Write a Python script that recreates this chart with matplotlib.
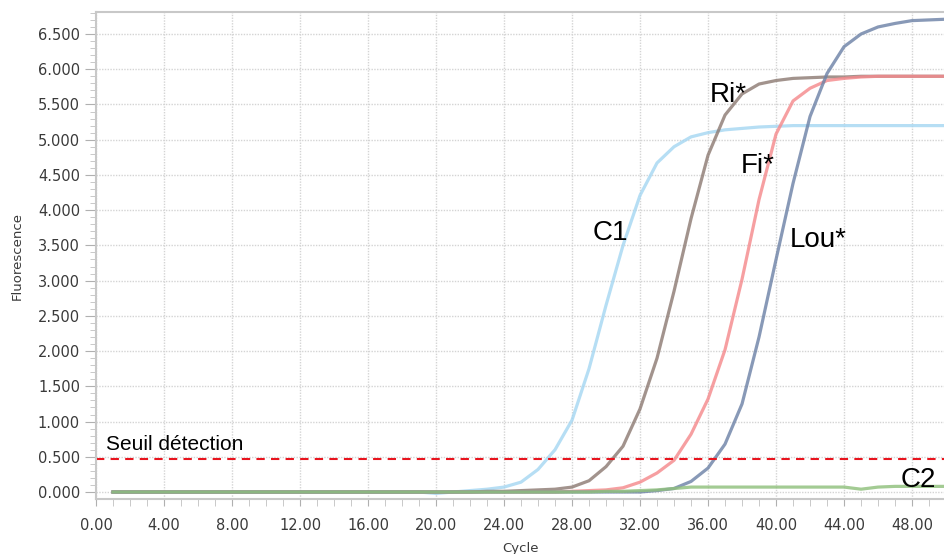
import numpy as np
import matplotlib.pyplot as plt
from matplotlib.ticker import MultipleLocator, FormatStrFormatter

# Cycles et courbes de fluorescence
cycles = list(range(1, 51))

c1 = [0.00] * 19 + [-0.02, 0.00, 0.02, 0.04, 0.07, 0.14, 0.32, 0.60, 1.02, 1.75,
                    2.65, 3.50, 4.21, 4.67, 4.90, 5.04, 5.10, 5.14, 5.16, 5.18,
                    5.19] + [5.20] * 10
ri = [0.00] * 22 + [0.01, 0.01, 0.02, 0.03, 0.04, 0.07, 0.16, 0.36, 0.65, 1.18,
                    1.90, 2.85, 3.88, 4.78, 5.35, 5.65, 5.79, 5.84, 5.87, 5.88,
                    5.89, 5.89, 5.90] + [5.90] * 5
fi = [0.00] * 27 + [0.01, 0.02, 0.03, 0.06, 0.14, 0.27, 0.45, 0.82, 1.32, 2.02,
                    3.02, 4.15, 5.08, 5.55, 5.73, 5.84, 5.87, 5.89] + [5.90] * 5
lou = [0.00] * 32 + [0.02, 0.05, 0.15, 0.34, 0.68, 1.25, 2.20, 3.30, 4.38, 5.33,
                     5.94, 6.32, 6.50, 6.60, 6.65, 6.69, 6.70, 6.71]
c2 = [0.00] * 29 + [0.01, 0.01, 0.02, 0.03, 0.05] + [0.07] * 10 + [0.04, 0.07] + [0.08] * 4

seuil = 0.47

series = [
    ("C1", c1, "#a6d7f2"),
    ("Ri*", ri, "#8e7c74"),
    ("Fi*", fi, "#f58a8d"),
    ("Lou*", lou, "#6e83a7"),
    ("C2", c2, "#8fc07c"),
]

# (texte, x gauche, ligne de base)
labels = [
    ("C1", 29.2, 3.58),
    ("Ri*", 36.1, 5.54),
    ("Fi*", 37.9, 4.53),
    ("Lou*", 40.8, 3.48),
    ("C2", 47.3, 0.07),
]

fig = plt.figure(figsize=(9.44, 5.54), dpi=100)
ax = fig.add_axes([0.1017, 0.0993, 0.8983, 0.879])

for name, vals, col in series:
    ax.plot(cycles, vals, color=col, lw=2.3, alpha=0.82, solid_joinstyle='round')

ax.axhline(seuil, color='#e8141e', lw=1.5, dashes=(4, 3))
ax.text(0.6, 0.60, "Seuil détection", fontsize=15, family='Liberation Sans',
        ha='left', va='baseline')

for txt, x, y in labels:
    ax.text(x, y, txt, fontsize=20, family='Liberation Sans', ha='left', va='baseline')

ax.set_xlim(0, 49.88)
ax.set_ylim(-0.099, 6.812)

ax.xaxis.set_major_locator(MultipleLocator(4))
ax.xaxis.set_minor_locator(MultipleLocator(1))
ax.yaxis.set_major_locator(MultipleLocator(0.5))
ax.yaxis.set_minor_locator(MultipleLocator(0.1))
ax.xaxis.set_major_formatter(FormatStrFormatter('%.2f'))
ax.yaxis.set_major_formatter(FormatStrFormatter('%.3f'))

ax.grid(True, which='major', color='#d4d4d4', lw=1, ls=(0, (1, 1)))
ax.set_axisbelow(True)

for s in ['left', 'bottom', 'top']:
    ax.spines[s].set_color('#c8c8c8')
    ax.spines[s].set_linewidth(1.5)
ax.spines['right'].set_visible(False)

ax.tick_params(which='major', length=8, color='#b0b0b0', labelsize=10.5,
               labelcolor='#3a3a3a')
ax.tick_params(which='minor', length=4, color='#c0c0c0')
ax.tick_params(axis='x', which='major', length=5, pad=9)
ax.tick_params(axis='x', which='minor', length=5)

ax.set_xlabel("Cycle", fontsize=9.5, color='#3a3a3a', labelpad=6)
ax.set_ylabel("Fluorescence", fontsize=9.5, color='#3a3a3a', labelpad=10)

fig.savefig("out.png", dpi=100)
